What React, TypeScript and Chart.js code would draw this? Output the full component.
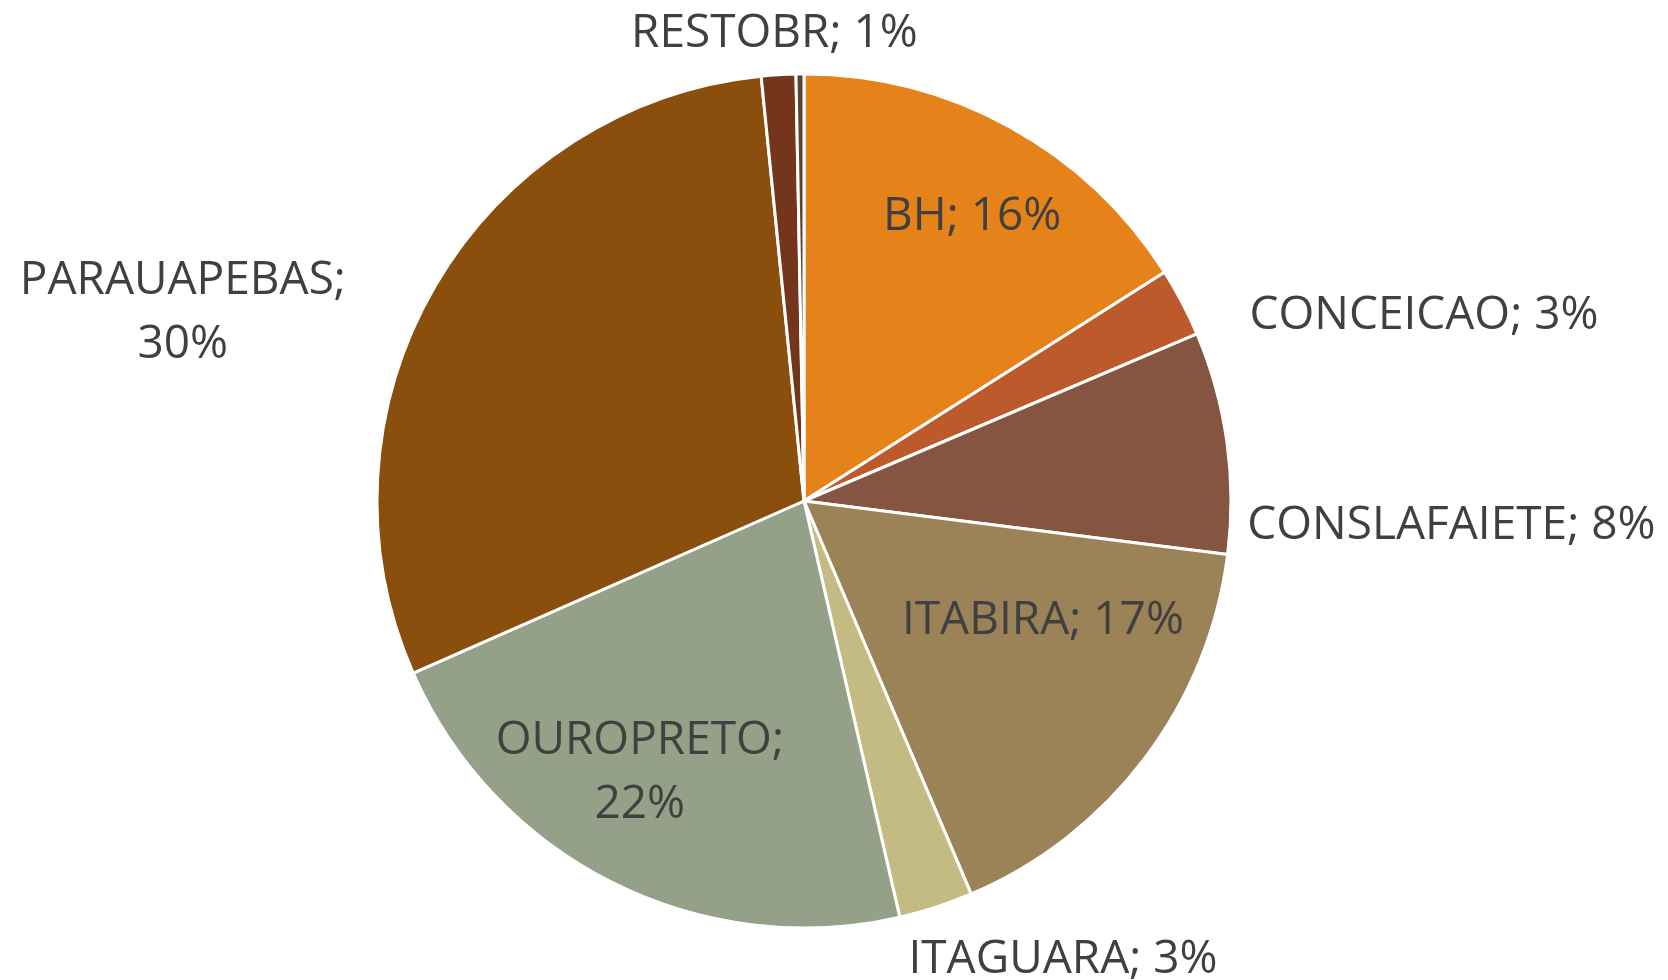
import React, { useEffect, useRef } from "react";
import { Chart, registerables } from "chart.js";

Chart.register(...registerables);

const categories = ["BH", "CONCEICAO", "CONSLAFAIETE", "ITABIRA", "ITAGUARA", "OUROPRETO", "PARAUAPEBAS", "RESTOBR", "OUTROS"];
const shares = [16.0, 2.6, 8.4, 16.6, 2.8, 22.0, 30.0, 1.3, 0.3];
const sliceColors = ["#E5821A", "#BD5A2C", "#865542", "#9B8257", "#C3BB81", "#95A088", "#8A4E0D", "#74351C", "#5C4232"];

// label placement: [distance as fraction of radius, angle in degrees clockwise from top, wrap after ';']
const labelPlacement: ([number, number, boolean] | null)[] = [
  [0.781, 30.3, false],
  [1.518, 73.05, false],
  [1.517, 91.9, false],
  [0.622, 115.9, false],
  [1.228, 150.4, false],
  [0.738, 211.4, true],
  [1.522, 287.1, true],
  [1.103, 356.4, false],
  null,
];

const FONT_SIZE = 46;
const LINE_GAP = 64;

const labelPlugin = {
  id: "sliceLabels",
  afterDatasetsDraw(chart: any) {
    const ctx = chart.ctx;
    const meta = chart.getDatasetMeta(0);
    const data = chart.data.datasets[0].data as number[];
    const total = data.reduce((a, b) => a + b, 0);
    ctx.save();
    ctx.font = `${FONT_SIZE}px "Open Sans"`;
    ctx.fillStyle = "#404040";
    ctx.textAlign = "center";
    ctx.textBaseline = "alphabetic";
    const capHalf = ctx.measureText("H").actualBoundingBoxAscent / 2;
    meta.data.forEach((arc: any, i: number) => {
      const p = labelPlacement[i];
      if (!p) return;
      const [f, deg, wrap] = p;
      const a = (deg * Math.PI) / 180;
      const cx = arc.x + f * arc.outerRadius * Math.sin(a);
      const cy = arc.y - f * arc.outerRadius * Math.cos(a);
      const pct = Math.round((data[i] / total) * 100);
      const lines = wrap ? [`${chart.data.labels[i]};`, `${pct}%`] : [`${chart.data.labels[i]}; ${pct}%`];
      const top = cy - ((lines.length - 1) * LINE_GAP) / 2;
      lines.forEach((t, k) => {
        ctx.fillText(t, cx, top + k * LINE_GAP + capHalf);
      });
    });
    ctx.restore();
  },
};

export default function App() {
  const ref = useRef<HTMLCanvasElement | null>(null);
  useEffect(() => {
    if (!ref.current) return;
    const chart = new Chart(ref.current, {
      type: "pie",
      data: {
        labels: categories,
        datasets: [
          {
            data: shares,
            backgroundColor: sliceColors,
            borderColor: "#FFFFFF",
            borderWidth: 3,
          },
        ],
      },
      options: {
        animation: false,
        responsive: true,
        maintainAspectRatio: false,
        events: [],
        radius: 427,
        layout: { padding: { left: 0, right: 60, top: 22, bottom: 0 } },
        plugins: {
          legend: { display: false },
          tooltip: { enabled: false },
        },
      } as any,
      plugins: [labelPlugin],
    });
    return () => chart.destroy();
  }, []);
  return (
    <div style={{ position: "fixed", left: 0, top: 0, width: 1668, height: 980, background: "#FFFFFF" }}>
      <canvas ref={ref} />
    </div>
  );
}
